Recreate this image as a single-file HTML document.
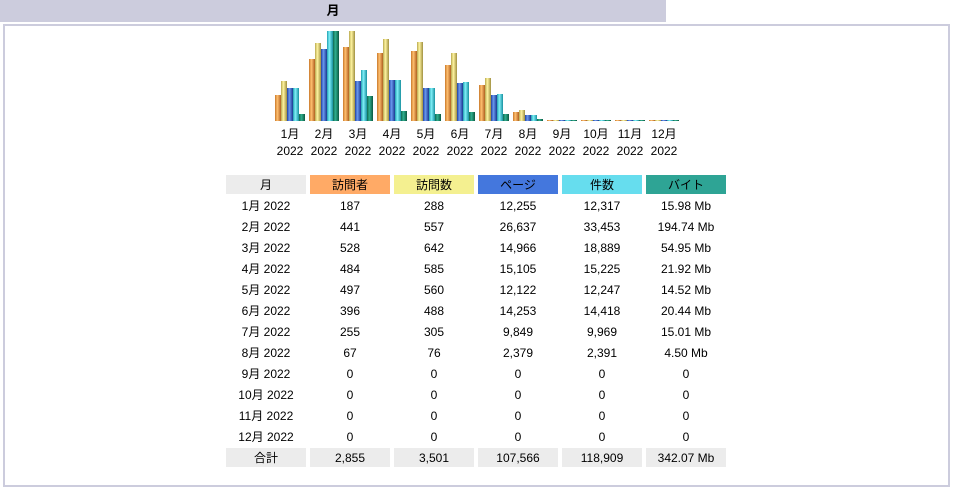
<!DOCTYPE html>
<html><head><meta charset="utf-8"><style>
body{margin:0;width:953px;height:488px;background:#fff;font-family:"Liberation Sans","Noto Sans CJK JP",sans-serif;font-size:12px;color:#000;position:relative;overflow:hidden}
#hdr{position:absolute;left:0;top:0;width:666px;height:22px;background:#CCCCDD;font-weight:bold;text-align:center;line-height:22px;font-size:13px}
#box{position:absolute;left:3px;top:24px;width:943px;height:459px;border:2px solid #CCCCDD}
svg{position:absolute;left:0;top:0}
table{position:absolute;left:222px;top:173px;border-collapse:separate;border-spacing:4px 2px}
td{width:80px;height:19px;text-align:center;padding:0;font-size:12px}
.h1{background:#ECECEC}.hv{background:#FFAA66}.hs{background:#F4F090}.hp{background:#4477DD}.hh{background:#66DDEE}.hb{background:#2EA495}
.tot td{background:#ECECEC}
</style></head><body>
<div id="hdr">月</div>
<div id="box"></div>
<svg id="chart" width="953" height="170">
<defs>
<linearGradient id="g0"><stop offset="0" stop-color="#c8782a"/><stop offset=".4" stop-color="#ffc070"/><stop offset="1" stop-color="#b06020"/></linearGradient>
<linearGradient id="g1"><stop offset="0" stop-color="#b8a850"/><stop offset=".4" stop-color="#fff4a0"/><stop offset="1" stop-color="#a09040"/></linearGradient>
<linearGradient id="g2"><stop offset="0" stop-color="#2040a0"/><stop offset=".4" stop-color="#6a9af0"/><stop offset="1" stop-color="#1a3890"/></linearGradient>
<linearGradient id="g3"><stop offset="0" stop-color="#20a0b0"/><stop offset=".4" stop-color="#80f0f8"/><stop offset="1" stop-color="#1890a0"/></linearGradient>
<linearGradient id="g4"><stop offset="0" stop-color="#106850"/><stop offset=".4" stop-color="#30b090"/><stop offset="1" stop-color="#0a5840"/></linearGradient>
</defs>
</svg>
<table id="tbl">
<tr><td class="h1">月</td><td class="hv">訪問者</td><td class="hs">訪問数</td><td class="hp">ページ</td><td class="hh">件数</td><td class="hb">バイト</td></tr>
</table>
<script>
const months=["1月","2月","3月","4月","5月","6月","7月","8月","9月","10月","11月","12月"];
const visitors=[187,441,528,484,497,396,255,67,0,0,0,0];
const visits=[288,557,642,585,560,488,305,76,0,0,0,0];
const pages=[12255,26637,14966,15105,12122,14253,9849,2379,0,0,0,0];
const hits=[12317,33453,18889,15225,12247,14418,9969,2391,0,0,0,0];
const bytes=[15.98,194.74,54.95,21.92,14.52,20.44,15.01,4.50,0,0,0,0];
const totals=["2,855","3,501","107,566","118,909","342.07 Mb"];
const svg=document.getElementById('chart'),NS="http://www.w3.org/2000/svg";
const base=121,H=90,x0=275,step=34,bw=6;
const mV=Math.max(...visits),mH=Math.max(...hits),mB=Math.max(...bytes);
const series=[[visitors,mV],[visits,mV],[pages,mH],[hits,mH],[bytes,mB]];
months.forEach((m,i)=>{
 series.forEach((s,j)=>{
  let h=Math.max(1,Math.round(s[0][i]/s[1]*H));
  const r=document.createElementNS(NS,'rect');
  r.setAttribute('x',x0+i*step+j*bw);r.setAttribute('y',base-h);r.setAttribute('width',bw);r.setAttribute('height',h);r.setAttribute('fill','url(#g'+j+')');
  
  
  svg.appendChild(r);
 });
 [m,"2022"].forEach((t,k)=>{
  const tx=document.createElementNS(NS,'text');
  tx.setAttribute('x',x0+i*step+15);tx.setAttribute('y',138+k*17);tx.setAttribute('text-anchor','middle');tx.setAttribute('font-size','12');
  tx.textContent=t;
  
  
  svg.appendChild(tx);
 });
});
const tb=document.getElementById('tbl'),f=n=>n.toLocaleString('en-US');
months.forEach((m,i)=>{
 const tr=document.createElement('tr');
 
 
 const b=bytes[i]?bytes[i].toFixed(2)+" Mb":"0";
 [m+" 2022",f(visitors[i]),f(visits[i]),f(pages[i]),f(hits[i]),b].forEach(v=>{const td=document.createElement('td');td.textContent=v;tr.appendChild(td);});
 tb.appendChild(tr);
});
const tr=document.createElement('tr');tr.className='tot';


["合計",...totals].forEach(v=>{const td=document.createElement('td');td.textContent=v;tr.appendChild(td);});
tb.appendChild(tr);
</script>
</body></html>
